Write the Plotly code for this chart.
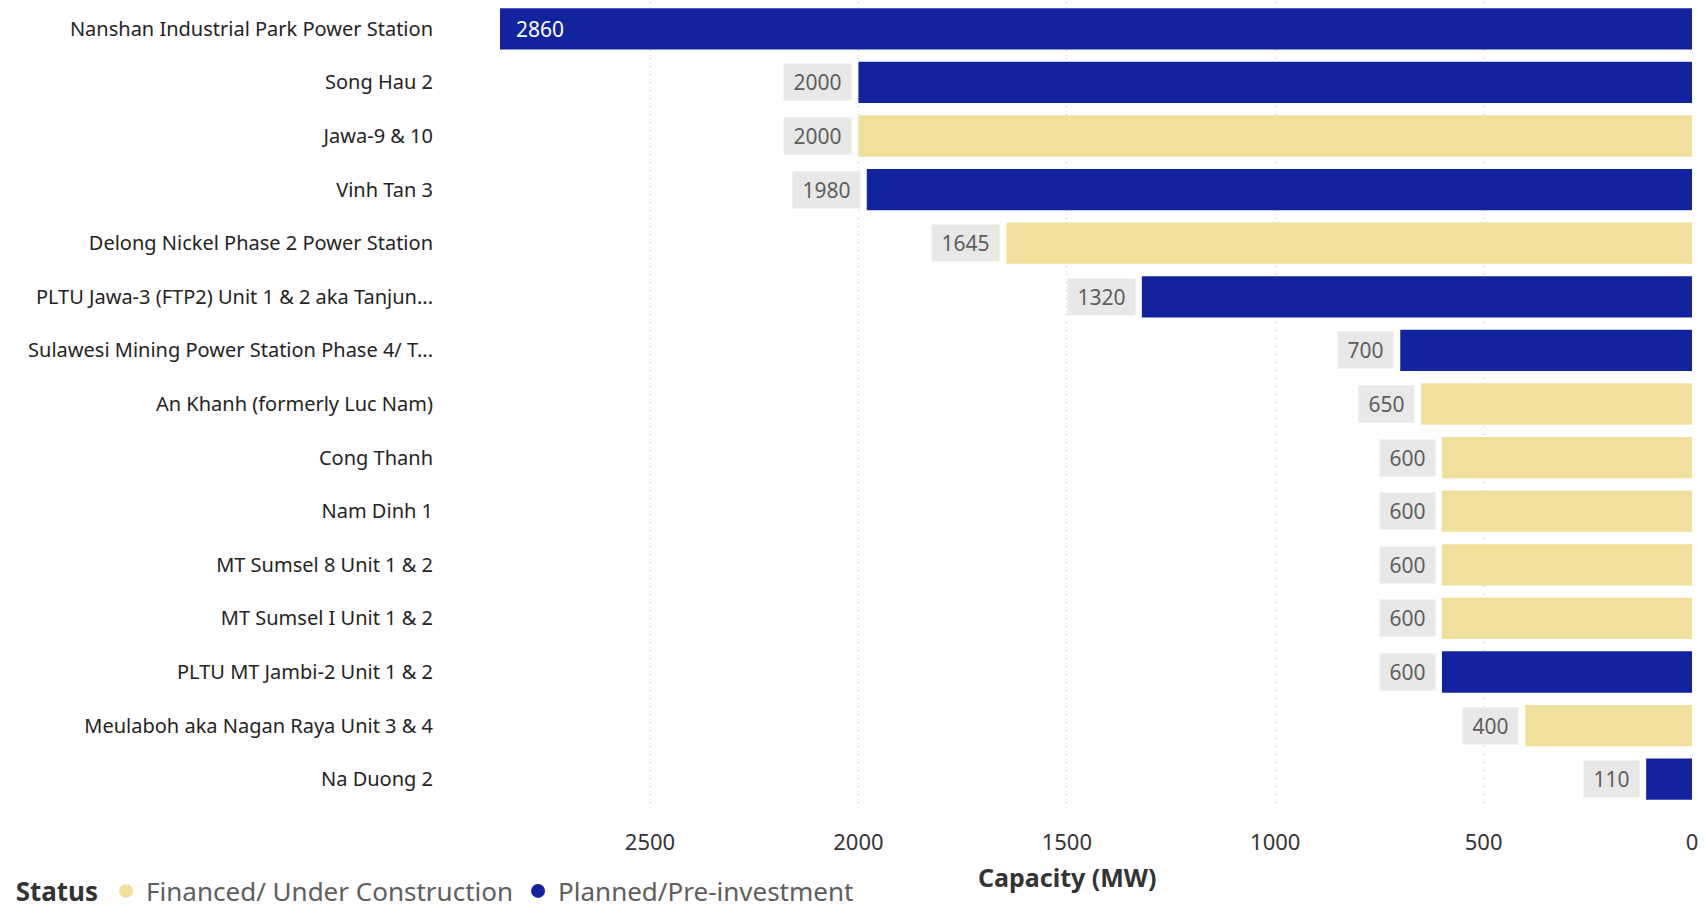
import plotly.graph_objects as go

projects = [
    "Nanshan Industrial Park Power Station",
    "Song Hau 2",
    "Jawa-9 & 10",
    "Vinh Tan 3",
    "Delong Nickel Phase 2 Power Station",
    "PLTU Jawa-3 (FTP2) Unit 1 & 2 aka Tanjun...",
    "Sulawesi Mining Power Station Phase 4/ T...",
    "An Khanh (formerly Luc Nam)",
    "Cong Thanh",
    "Nam Dinh 1",
    "MT Sumsel 8 Unit 1 & 2",
    "MT Sumsel I Unit 1 & 2",
    "PLTU MT Jambi-2 Unit 1 & 2",
    "Meulaboh aka Nagan Raya Unit 3 & 4",
    "Na Duong 2",
]
capacity = [2860, 2000, 2000, 1980, 1645, 1320, 700, 650, 600, 600, 600, 600, 600, 400, 110]
status = ["P", "P", "F", "P", "F", "P", "P", "F", "F", "F", "F", "F", "P", "F", "P"]

status_names = {"F": "Financed/ Under Construction", "P": "Planned/Pre-investment"}
status_colors = {"F": "#F0E09C", "P": "#12239E"}
tick_vals = [2500, 2000, 1500, 1000, 500, 0]

FONT = "Noto Sans"
fig = go.Figure()

for key in ["F", "P"]:
    ys = [p for p, s in zip(projects, status) if s == key]
    xs = [c for c, s in zip(capacity, status) if s == key]
    fig.add_trace(go.Bar(
        x=xs, y=ys, orientation="h", marker=dict(color=status_colors[key], line=dict(width=0)),
        name=status_names[key], showlegend=False, hoverinfo="x+y",
    ))
    fig.add_trace(go.Scatter(
        x=[None], y=[None], mode="markers", name=status_names[key],
        marker=dict(color=status_colors[key], size=14, symbol="circle"),
        showlegend=True,
    ))

max_c = max(capacity)
annotations = []
for p, c in zip(projects, capacity):
    if c == max_c:
        annotations.append(dict(
            x=c, y=p, xref="x", yref="y", text=str(c), showarrow=False,
            xanchor="left", xshift=14, font=dict(family=FONT, size=21, color="white"),
        ))
    else:
        annotations.append(dict(
            x=c, y=p, xref="x", yref="y", text="&nbsp;" + str(c) + "&nbsp;", showarrow=False,
            xanchor="right", xshift=-6, bgcolor="#E8E8E8", borderpad=4,
            font=dict(family=FONT, size=21, color="#605E5C"),
        ))

annotations.append(dict(
    x=0.4757, y=0, xref="paper", yref="paper", yshift=-71, yanchor="middle",
    text="<b>Capacity (MW)</b>", showarrow=False,
    font=dict(family=FONT, size=25, color="#333333"),
))

fig.update_layout(
    width=1706, height=908,
    margin=dict(l=500, r=14, t=2, b=102),
    plot_bgcolor="white", paper_bgcolor="white",
    barmode="overlay", bargap=0.23,
    font=dict(family=FONT, color="#252423"),
    annotations=annotations,
    legend=dict(
        orientation="h", xref="container", yref="container",
        x=0.008, y=0.0187, xanchor="left", yanchor="middle",
        title=dict(text="<b>Status</b>", side="left", font=dict(family=FONT, size=26, color="#333333")),
        font=dict(family=FONT, size=26, color="#605E5C"),
        itemwidth=30, tracegroupgap=0, bgcolor="rgba(0,0,0,0)",
    ),
    xaxis=dict(
        range=[max_c, 0], tickvals=tick_vals, ticktext=[str(v) for v in tick_vals],
        showgrid=True, gridcolor="#BDBDBD", griddash="1px,7px", gridwidth=1,
        zeroline=False, showline=False, ticks="",
        tickfont=dict(family=FONT, size=22, color="#333333"),
        ticklabelstandoff=21,
    ),
    yaxis=dict(
        categoryorder="array", categoryarray=projects, autorange="reversed",
        showgrid=False, zeroline=False, showline=False, ticks="",
        tickfont=dict(family=FONT, size=20, color="#252423"),
        ticklabelstandoff=66,
    ),
)

fig.write_html("out.html")
